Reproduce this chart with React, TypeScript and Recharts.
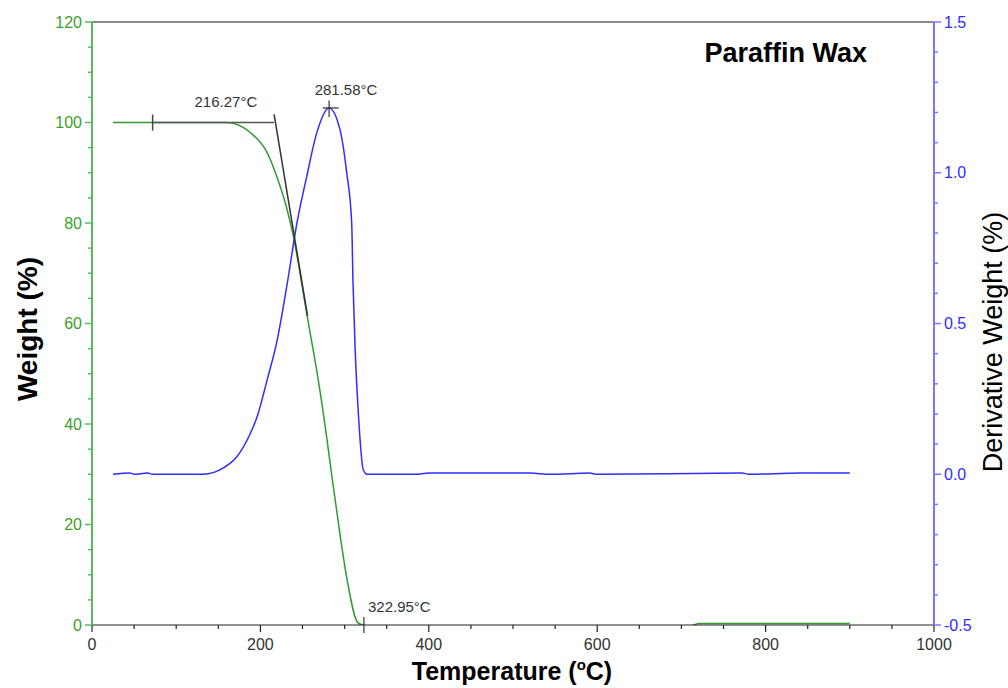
import React from 'react';
import { ComposedChart, Line, XAxis, YAxis, ReferenceLine, ReferenceDot, Label } from 'recharts';

// weight curve (left axis, %)
const weightTemp = [25, 72, 120, 160, 188, 208, 220, 232, 239, 255, 267, 274, 279, 285, 295, 303, 316, 330, 500, 710, 720, 900];
const weightPct = [100, 100, 100, 100, 98, 94, 89, 82.5, 77.5, 62, 50.5, 43, 37, 29.5, 17.5, 9, 0.4, -0.3, -0.3, -0.3, 0.3, 0.3];

// derivative weight curve (right axis, %/°C)
const derivTemp = [25, 45, 50, 66, 72, 132, 156, 172, 188, 196, 208, 220, 232, 243.5, 255, 267, 281.58, 294.5, 302.5, 308.4, 310, 312.4, 316.3, 322.2, 326.6, 384, 400, 430, 460, 490, 520, 544, 591, 600, 772, 780, 840, 870, 900];
const derivPct = [0, 0.004, 0, 0.004, 0, 0, 0.021, 0.058, 0.135, 0.19, 0.313, 0.446, 0.635, 0.835, 0.987, 1.133, 1.215, 1.143, 1.0, 0.835, 0.635, 0.424, 0.204, 0.015, 0, 0, 0.004, 0.004, 0.004, 0.004, 0.004, 0, 0.004, 0, 0.004, 0, 0.004, 0.004, 0.004];

const xTicks = [0, 50, 100, 150, 200, 250, 300, 350, 400, 450, 500, 550, 600, 650, 700, 750, 800, 850, 900, 950, 1000];
const leftTicks = [0, 5, 10, 15, 20, 25, 30, 35, 40, 45, 50, 55, 60, 65, 70, 75, 80, 85, 90, 95, 100, 105, 110, 115, 120];
const rightTicks = [-0.5, -0.4, -0.3, -0.2, -0.1, 0, 0.1, 0.2, 0.3, 0.4, 0.5, 0.6, 0.7, 0.8, 0.9, 1.0, 1.1, 1.2, 1.3, 1.4, 1.5];

// onset / peak / end annotations
const onsetTemp = 216.27;
const peakTemp = 281.58;
const endTemp = 322.95;
const baselineStart = 72;

const weightData = weightTemp.map((t, i) => ({ t, w: weightPct[i] }));
const derivData = derivTemp.map((t, i) => ({ t, d: derivPct[i] }));

const FONT = '"Liberation Sans", Arial, sans-serif';
const GREEN = '#339933';
const GREEN_AXIS = '#5cb85c';
const GREEN_TEXT = '#3c9f2c';
const BLUE = '#2e2eff';
const BLUE_AXIS = '#7777ff';
const DARK = '#333';

const LeftTick = (props: any) => {
  const { x, y, payload } = props;
  const major = payload.value % 20 === 0;
  return (
    <g>
      <line x1={x - (major ? 7 : 4)} x2={x} y1={y} y2={y} stroke={GREEN_AXIS} strokeWidth={1.5} />
      {major && (
        <text x={x - 10} y={y} dy={5.5} textAnchor="end" fill={GREEN_TEXT} fontSize={16} fontFamily={FONT}>
          {payload.value}
        </text>
      )}
    </g>
  );
};

const RightTick = (props: any) => {
  const { x, y, payload } = props;
  const v = payload.value as number;
  const major = Math.abs(v * 2 - Math.round(v * 2)) < 1e-6;
  return (
    <g>
      <line x1={x} x2={x + (major ? 7 : 4)} y1={y} y2={y} stroke={BLUE_AXIS} strokeWidth={1.5} />
      {major && (
        <text x={x + 10} y={y} dy={5.5} textAnchor="start" fill={BLUE} fontSize={16} fontFamily={FONT}>
          {v.toFixed(1)}
        </text>
      )}
    </g>
  );
};

const BottomTick = (props: any) => {
  const { x, y, payload } = props;
  const major = payload.value % 200 === 0;
  return (
    <g>
      <line x1={x} x2={x} y1={y} y2={y + (major ? 7 : 4)} stroke="#222" strokeWidth={1.2} />
      {major && (
        <text x={x} y={y + 25} textAnchor="middle" fill={DARK} fontSize={16} fontFamily={FONT}>
          {payload.value}
        </text>
      )}
    </g>
  );
};

export default function App() {
  return (
    <div style={{ position: 'absolute', left: 0, top: 0, width: 1008, height: 688, background: '#fff' }}>
      <ComposedChart width={1008} height={688} margin={{ top: 22, right: 0, bottom: 0, left: 0 }}>
        <XAxis
          type="number"
          dataKey="t"
          domain={[0, 1000]}
          ticks={xTicks}
          interval={0}
          height={63}
          tickSize={0}
          tickMargin={0}
          tick={<BottomTick />}
          axisLine={{ stroke: '#222', strokeWidth: 1.2 }}
        >
          <Label
            content={() => (
              <text x={512} y={680} textAnchor="middle" fontSize={25} fontWeight="bold" fontFamily={FONT} fill="#000">
                Temperature (<tspan fontSize={15} dy={-10}>o</tspan><tspan dy={10}>C)</tspan>
              </text>
            )}
          />
        </XAxis>
        <YAxis
          yAxisId="w"
          type="number"
          domain={[0, 120]}
          allowDataOverflow
          ticks={leftTicks}
          interval={0}
          width={92}
          tickSize={0}
          tickMargin={0}
          tick={<LeftTick />}
          axisLine={{ stroke: GREEN_AXIS, strokeWidth: 2 }}
        >
          <Label
            content={() => (
              <text x={37} y={329} transform="rotate(-90 37 329)" textAnchor="middle" fontSize={28} fontWeight="bold" fontFamily={FONT} fill="#000">
                Weight (%)
              </text>
            )}
          />
        </YAxis>
        <YAxis
          yAxisId="d"
          orientation="right"
          type="number"
          domain={[-0.5, 1.5]}
          ticks={rightTicks}
          interval={0}
          width={74}
          tickSize={0}
          tickMargin={0}
          tick={<RightTick />}
          axisLine={{ stroke: BLUE_AXIS, strokeWidth: 2 }}
        >
          <Label
            content={() => (
              <text x={1002} y={342} transform="rotate(-90 1002 342)" textAnchor="middle" fontSize={27} fontFamily={FONT} fill="#000">
                Derivative Weight (%)
              </text>
            )}
          />
        </YAxis>

        <ReferenceLine yAxisId="w" y={120} stroke="#666" strokeWidth={1.5} />

        <Line
          yAxisId="w"
          data={weightData}
          dataKey="w"
          type="monotone"
          stroke={GREEN}
          strokeWidth={1.5}
          dot={false}
          isAnimationActive={false}
        />
        <Line
          yAxisId="d"
          data={derivData}
          dataKey="d"
          type="monotone"
          stroke={BLUE}
          strokeWidth={1.5}
          dot={false}
          isAnimationActive={false}
        />

        {/* onset construction */}
        <ReferenceLine yAxisId="w" segment={[{ x: baselineStart, y: 100 }, { x: onsetTemp, y: 100 }]} stroke="#555" strokeWidth={1.5} />
        <ReferenceLine yAxisId="w" segment={[{ x: baselineStart, y: 98.4 }, { x: baselineStart, y: 101.6 }]} stroke="#444" strokeWidth={1.5} />
        <ReferenceLine yAxisId="w" segment={[{ x: onsetTemp, y: 101.6 }, { x: 256, y: 61.5 }]} stroke="#333" strokeWidth={1.5} />
        {/* peak marker */}
        <ReferenceLine yAxisId="d" segment={[{ x: 274, y: 1.215 }, { x: 293, y: 1.215 }]} stroke="#333" strokeWidth={1.2} />
        <ReferenceLine yAxisId="d" segment={[{ x: peakTemp, y: 1.185 }, { x: peakTemp, y: 1.24 }]} stroke="#333" strokeWidth={1.2} />
        {/* end marker */}
        <ReferenceLine yAxisId="w" segment={[{ x: endTemp, y: -1.6 }, { x: endTemp, y: 1.6 }]} stroke="#333" strokeWidth={1.2} ifOverflow="visible" />

        <ReferenceDot yAxisId="w" x={159} y={104.2} r={0} fill="none" stroke="none"
          label={{ value: `${onsetTemp}°C`, position: 'center', fontSize: 15, fill: DARK, fontFamily: FONT }} />
        <ReferenceDot yAxisId="d" x={301.7} y={1.274} r={0} fill="none" stroke="none"
          label={{ value: `${peakTemp}°C`, position: 'center', fontSize: 15, fill: DARK, fontFamily: FONT }} />
        <ReferenceDot yAxisId="w" x={365} y={3.6} r={0} fill="none" stroke="none"
          label={{ value: `${endTemp}°C`, position: 'center', fontSize: 15, fill: DARK, fontFamily: FONT }} />
        <ReferenceDot yAxisId="w" x={824} y={114} r={0} fill="none" stroke="none"
          label={{ value: 'Paraffin Wax', position: 'center', fontSize: 27, fontWeight: 'bold', fill: '#000', fontFamily: FONT }} />
      </ComposedChart>
    </div>
  );
}
